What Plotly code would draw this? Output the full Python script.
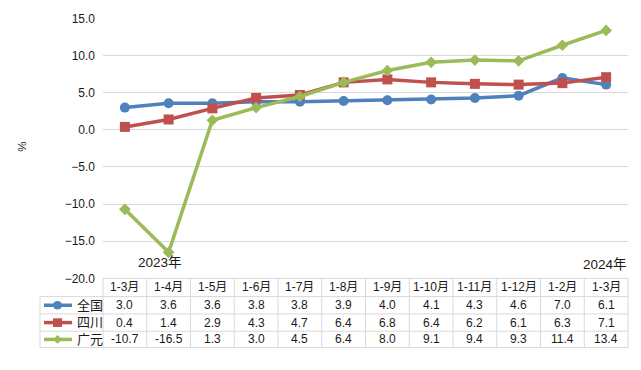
import plotly.graph_objects as go

categories = ["1-3月", "1-4月", "1-5月", "1-6月", "1-7月", "1-8月", "1-9月",
              "1-10月", "1-11月", "1-12月", "1-2月", "1-3月"]
national = [3.0, 3.6, 3.6, 3.8, 3.8, 3.9, 4.0, 4.1, 4.3, 4.6, 7.0, 6.1]
sichuan = [0.4, 1.4, 2.9, 4.3, 4.7, 6.4, 6.8, 6.4, 6.2, 6.1, 6.3, 7.1]
guangyuan = [-10.7, -16.5, 1.3, 3.0, 4.5, 6.4, 8.0, 9.1, 9.4, 9.3, 11.4, 13.4]
series_names = ["全国", "四川", "广元"]
y_ticks = [15, 10, 5, 0, -5, -10, -15, -20]

W, H = 641, 370
PL, PR, PT, PB = 103, 628, 12, 282
FONT = "Liberation Sans, Noto Sans CJK SC, sans-serif"
TXT = "#1a1a1a"
GRID = "#d9d9d9"

def px(x):
    return x / W

def py(y):
    return (H - y) / H

colors = ["#4F81BD", "#C0504D", "#9BBB59"]
symbols = ["circle", "square", "diamond"]
sizes = [10, 10, 9]
data = [national, sichuan, guangyuan]
xs = list(range(len(categories)))

fig = go.Figure()
for name, vals, c, s, sz in zip(series_names, data, colors, symbols, sizes):
    fig.add_trace(go.Scatter(x=xs, y=vals, name=name, mode="lines+markers",
                             line=dict(color=c, width=3.5),
                             marker=dict(symbol=s, size=sz, color=c),
                             showlegend=False, cliponaxis=False))

shapes = []
annotations = []
n = len(categories)
cw = (PR - PL) / n
row_y = [282, 301, 319, 337, 354]
line_style = dict(color=GRID, width=1)

shapes.append(dict(type="line", xref="paper", yref="paper", x0=px(PL), x1=px(PR),
                   y0=py(row_y[0]), y1=py(row_y[0]), line=line_style))
for ry in row_y[1:]:
    shapes.append(dict(type="line", xref="paper", yref="paper", x0=px(40), x1=px(PR),
                       y0=py(ry), y1=py(ry), line=line_style))
shapes.append(dict(type="line", xref="paper", yref="paper", x0=px(40), x1=px(40),
                   y0=py(row_y[1]), y1=py(row_y[-1]), line=line_style))
for i in range(n + 1):
    xx = PL + i * cw
    shapes.append(dict(type="line", xref="paper", yref="paper", x0=px(xx), x1=px(xx),
                       y0=py(row_y[0]), y1=py(row_y[-1]), line=line_style))

for i, cat in enumerate(categories):
    annotations.append(dict(xref="paper", yref="paper", x=px(PL + (i + 0.5) * cw),
                            y=py((row_y[0] + row_y[1]) / 2), text=cat, showarrow=False,
                            font=dict(size=12, color=TXT, family=FONT),
                            xanchor="center", yanchor="middle"))
for r, (name, vals, c, s) in enumerate(zip(series_names, data, colors, symbols)):
    yc = (row_y[r + 1] + row_y[r + 2]) / 2
    for i, v in enumerate(vals):
        annotations.append(dict(xref="paper", yref="paper", x=px(PL + (i + 0.5) * cw),
                                y=py(yc), text=f"{v:.1f}", showarrow=False,
                                font=dict(size=12, color=TXT, family=FONT),
                                xanchor="center", yanchor="middle"))
    annotations.append(dict(xref="paper", yref="paper", x=px(75), y=py(yc), text=name,
                            showarrow=False, font=dict(size=13, color=TXT, family=FONT),
                            xanchor="left", yanchor="middle"))
    shapes.append(dict(type="line", xref="paper", yref="paper", x0=px(44), x1=px(72),
                       y0=py(yc), y1=py(yc), line=dict(color=c, width=3.5)))
    mx, r_ = 57.5, 4.5
    if s == "circle":
        shapes.append(dict(type="circle", xref="paper", yref="paper", x0=px(mx - r_),
                           x1=px(mx + r_), y0=py(yc - r_), y1=py(yc + r_),
                           fillcolor=c, line=dict(color=c, width=0)))
    elif s == "square":
        shapes.append(dict(type="rect", xref="paper", yref="paper", x0=px(mx - 4.5),
                           x1=px(mx + 4.5), y0=py(yc - 4.5), y1=py(yc + 4.5),
                           fillcolor=c, line=dict(color=c, width=0)))
    else:
        d = 4.5
        path = (f"M {px(mx - d)} {py(yc)} L {px(mx)} {py(yc - d)} "
                f"L {px(mx + d)} {py(yc)} L {px(mx)} {py(yc + d)} Z")
        shapes.append(dict(type="path", xref="paper", yref="paper", path=path,
                           fillcolor=c, line=dict(color=c, width=0)))

annotations.append(dict(xref="paper", yref="paper", x=px(160), y=py(266), text="2023年",
                        showarrow=False, font=dict(size=13.5, color=TXT, family=FONT),
                        xanchor="center", yanchor="middle"))
annotations.append(dict(xref="paper", yref="paper", x=px(629), y=py(268), text="2024年",
                        showarrow=False, font=dict(size=13.5, color=TXT, family=FONT),
                        xanchor="right", yanchor="middle"))
annotations.append(dict(xref="paper", yref="paper", x=px(22), y=py(145), text="%",
                        showarrow=False, textangle=90,
                        font=dict(size=11.5, color=TXT, family=FONT),
                        xanchor="center", yanchor="middle"))

fig.update_layout(
    width=W, height=H, margin=dict(l=0, r=0, t=0, b=0),
    paper_bgcolor="white", plot_bgcolor="white",
    xaxis=dict(domain=[px(PL), px(PR)], range=[-0.5, n - 0.5], showgrid=False,
               zeroline=False, showticklabels=False, showline=False, fixedrange=True),
    yaxis=dict(domain=[py(PB), py(PT)], range=[-20, 15], tickvals=y_ticks,
               tickformat=".1f", showgrid=True, gridcolor=GRID, gridwidth=1,
               zeroline=False, showline=False, ticks="", ticklabelstandoff=7,
               tickfont=dict(size=12, color=TXT, family=FONT)),
    shapes=shapes, annotations=annotations,
)
fig.write_html("out.html", config={"displayModeBar": False},
               post_script="document.body.style.margin='0';document.body.style.padding='0';")
